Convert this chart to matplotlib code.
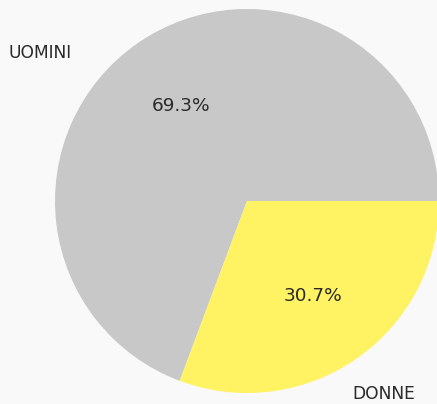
import matplotlib
matplotlib.use("Agg")
import matplotlib.pyplot as plt

labels = ["UOMINI", "DONNE"]
values = [69.3, 30.7]
colors = ["#c8c8c8", "#fff263"]
label_pos = [(-1.078, 0.771), (0.714, -1.005)]

W, H = 437, 404
fig = plt.figure(figsize=(W / 100, H / 100), dpi=100)
fig.patch.set_facecolor("#f9f9f9")
ax = fig.add_axes([0, 0, 1, 1])
ax.set_facecolor("#f9f9f9")

wedges, texts, autotexts = ax.pie(
    values, labels=labels, colors=colors, startangle=0, counterclock=True,
    autopct="%1.1f%%", pctdistance=0.6, radius=1.0,
    wedgeprops=dict(linewidth=0),
    textprops=dict(fontsize=12, color="#2a2a2a", family="DejaVu Sans"),
)
for t, p in zip(texts, label_pos):
    t.set_position(p)
    t.set_ha("center")
    t.set_va("center")
    t.set_fontsize(12.3)
for t in autotexts:
    t.set_fontsize(13.3)

cx, cy, r = 247, 201, 192
ax.set_xlim(-cx / r, (W - cx) / r)
ax.set_ylim(-(H - cy) / r, cy / r)
ax.set_aspect("auto")
ax.axis("off")

fig.savefig("out.png", dpi=100, facecolor=fig.get_facecolor())
